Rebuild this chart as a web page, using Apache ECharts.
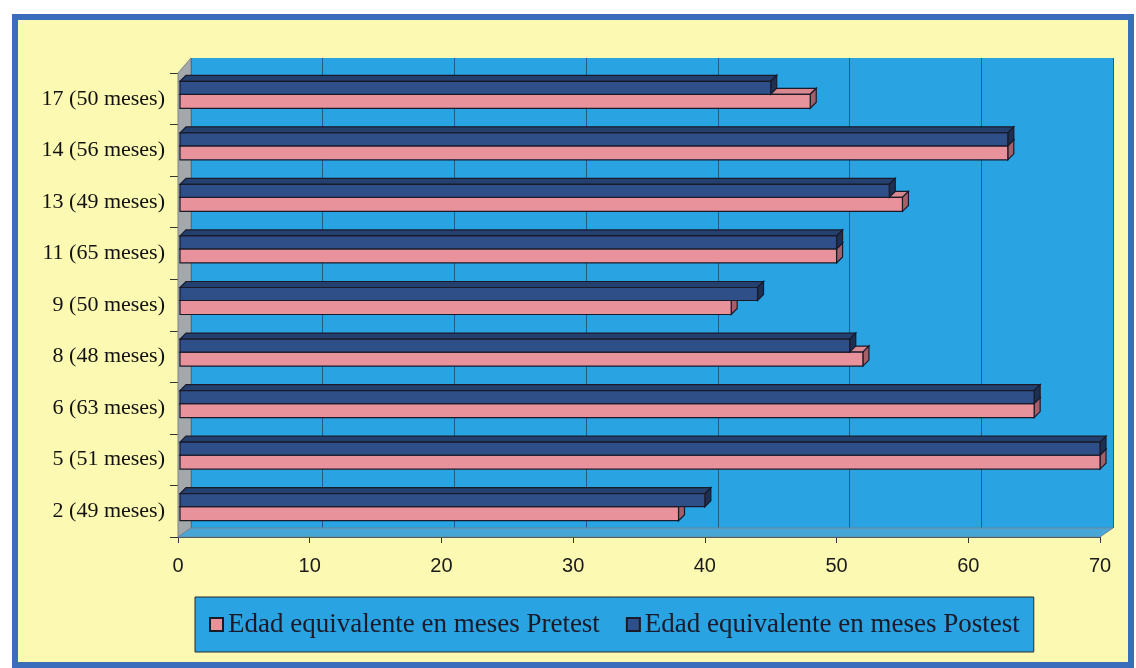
<!DOCTYPE html>
<html>
<head>
<meta charset="utf-8">
<script src="https://cdn.jsdelivr.net/npm/echarts@6/dist/echarts.min.js"></script>
<style>
  html, body { margin: 0; padding: 0; background: #fff; }
  #marco { position: absolute; left: 12px; top: 14px; width: 1122px; height: 654px; box-sizing: border-box;
           border: 6px solid #3a6dbc; background: #fcf9b2; }
  #barChart { position: absolute; left: 0; top: 0; width: 1136px; height: 668px; }
</style>
</head>
<body>
<div id="marco"></div>
<!-- grafico de barras 3D (pretest / postest) -->
<div id="barChart"></div>
<script>
// categorias de abajo hacia arriba
var alumnos = ['2 (49 meses)', '5 (51 meses)', '6 (63 meses)', '8 (48 meses)', '9 (50 meses)',
               '11 (65 meses)', '13 (49 meses)', '14 (56 meses)', '17 (50 meses)'];
var pretest = [38, 70, 65, 52, 42, 50, 55, 63, 48];
var postest = [40, 70, 65, 51, 44, 50, 54, 63, 45];
var ticksX = [0, 10, 20, 30, 40, 50, 60, 70];

var FONDO = 6; // profundidad del efecto 3D

function pares(valores) {
  return valores.map(function (v, i) { return [v, i]; });
}

// dibuja una barra con cara frontal, superior y lateral
function barra3d(frente, arriba, lado, yIni, yFin) {
  return function (params, api) {
    var c = api.value(1);
    var p0 = api.coord([0, c]);
    var p1 = api.coord([api.value(0), c]);
    var x0 = p0[0] + 2, x1 = p1[0];
    var t = p0[1] + yIni, b = p0[1] + yFin, d = FONDO;
    var borde = { stroke: '#1a1a28', lineWidth: 1.2 };
    return {
      type: 'group',
      children: [
        { type: 'polygon', shape: { points: [[x0, t], [x0 + d, t - d], [x1 + d, t - d], [x1, t]] },
          style: Object.assign({ fill: arriba }, borde) },
        { type: 'polygon', shape: { points: [[x1, t], [x1 + d, t - d], [x1 + d, b - d], [x1, b]] },
          style: Object.assign({ fill: lado }, borde) },
        { type: 'rect', shape: { x: x0, y: t, width: x1 - x0, height: b - t },
          style: Object.assign({ fill: frente }, borde) }
      ]
    };
  };
}

var myChart = echarts.init(document.getElementById('barChart'));
myChart.setOption({
  backgroundColor: 'transparent',
  animation: false,
  grid: [
    { left: 178, right: 36, top: 73, bottom: 131 },
    // pared del fondo
    { left: 191, right: 23, top: 58, bottom: 140, show: true, backgroundColor: '#29a3e2', borderWidth: 0 }
  ],
  xAxis: [
    {
      gridIndex: 0, type: 'value', min: 0, max: 70, interval: 10,
      axisLine: { show: true, lineStyle: { color: '#333', width: 1 } },
      axisTick: { show: true, length: 6, lineStyle: { color: '#333' } },
      axisLabel: { fontFamily: 'Liberation Sans Narrow, Liberation Sans, Arial', fontSize: 20, color: '#1a1a1a', margin: 19 },
      splitLine: { show: false }
    },
    {
      gridIndex: 1, type: 'value', min: 0, max: 70, interval: 10,
      axisLine: { show: false }, axisTick: { show: false }, axisLabel: { show: false },
      splitLine: { show: true, lineStyle: { color: '#1d5f86', width: 1 } }
    }
  ],
  yAxis: [
    {
      gridIndex: 0, type: 'category', data: alumnos,
      axisLine: { show: true, lineStyle: { color: '#333', width: 1 } },
      axisTick: { show: true, length: 8, lineStyle: { color: '#333' } },
      axisLabel: { fontFamily: 'Liberation Serif, Times New Roman, serif', fontSize: 22, color: '#111',
                   margin: 13, padding: [8, 0, 0, 0] }
    },
    {
      gridIndex: 1, type: 'category', data: alumnos,
      axisLine: { show: false }, axisTick: { show: false }, axisLabel: { show: false }, splitLine: { show: false }
    }
  ],
  legend: {
    left: 195, top: 597,
    backgroundColor: '#29a3e2', borderColor: '#2a2a2a', borderWidth: 1,
    padding: [14, 14, 14, 14],
    itemWidth: 13, itemHeight: 13, itemGap: 26,
    textStyle: { fontFamily: 'Liberation Serif, Times New Roman, serif', fontSize: 27, color: '#1a1a2a' },
    data: [
      { name: 'Edad equivalente en meses Pretest', icon: 'rect', itemStyle: { borderColor: '#1a1a28', borderWidth: 2 } },
      { name: 'Edad equivalente en meses Postest', icon: 'rect', itemStyle: { borderColor: '#1a1a28', borderWidth: 2 } }
    ]
  },
  graphic: [
    // pared lateral izquierda
    { type: 'polygon', z: 1, shape: { points: [[178, 73], [191, 58], [191, 528], [178, 537]] },
      style: { fill: '#a3a8ad', stroke: '#7d8388', lineWidth: 1 } },
    // piso
    { type: 'polygon', z: 1, shape: { points: [[178, 537], [191, 528], [1113, 528], [1100, 537]] },
      style: { fill: '#48a6d6', stroke: '#6f8796', lineWidth: 1 } }
  ],
  series: [
    {
      name: 'Edad equivalente en meses Pretest', type: 'custom', xAxisIndex: 0, yAxisIndex: 0, z: 5,
      itemStyle: { color: '#e8939c' },
      renderItem: barra3d('#e8939c', '#d98890', '#a4606a', -4.5, 9.5),
      encode: { x: 0, y: 1 },
      data: pares(pretest)
    },
    {
      name: 'Edad equivalente en meses Postest', type: 'custom', xAxisIndex: 0, yAxisIndex: 0, z: 6,
      itemStyle: { color: '#2f4f88' },
      renderItem: barra3d('#2f4f88', '#24406f', '#1d2f52', -17.5, -4.5),
      encode: { x: 0, y: 1 },
      data: pares(postest)
    }
  ]
});
</script>
</body>
</html>
